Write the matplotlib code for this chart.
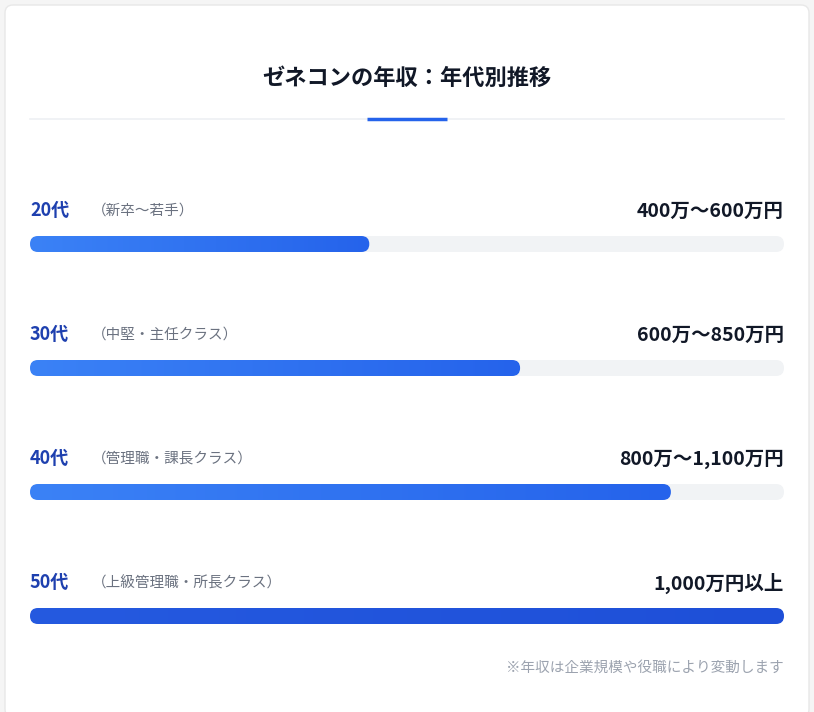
import numpy as np
import matplotlib.pyplot as plt
from matplotlib.patches import FancyBboxPatch

plt.rcParams['font.family'] = ['Noto Sans CJK JP', 'DejaVu Sans']

title = "ゼネコンの年収：年代別推移"
ages = ["20代", "30代", "40代", "50代"]
roles = ["（新卒〜若手）", "（中堅・主任クラス）", "（管理職・課長クラス）", "（上級管理職・所長クラス）"]
salaries = ["400万〜600万円", "600万〜850万円", "800万〜1,100万円", "1,000万円以上"]
fill_pct = [45, 65, 85, 100]
note = "※年収は企業規模や役職により変動します"

W, H = 814, 712
fig = plt.figure(figsize=(W / 100, H / 100), dpi=100)
fig.patch.set_facecolor("#f5f5f5")
ax = fig.add_axes([0, 0, 1, 1])
ax.set_xlim(0, W)
ax.set_ylim(H, 0)
ax.axis("off")

# card
ax.add_patch(FancyBboxPatch((5, 5), W - 10, H, boxstyle="round,pad=0,rounding_size=8",
                            fc="white", ec="#e8e8e8", lw=1))

ax.text(W / 2, 78, title, ha="center", va="center", fontsize=16, fontweight="bold", color="#111827")
ax.plot([30, 784], [119, 119], color="#eef0f3", lw=1.2)
ax.plot([367, 447], [119, 119], color="#2563eb", lw=2.5, solid_capstyle="butt")

x0, x1, bh = 30, 784, 16
for i in range(len(ages)):
    ly = 211 + i * 124
    by = 244 + i * 124
    ax.text(x0, ly, ages[i], ha="left", va="center", fontsize=13, fontweight="bold", color="#1e40af")
    ax.text(92, ly, roles[i], ha="left", va="center", fontsize=10.5, color="#6b7280")
    ax.text(x1, ly, salaries[i], ha="right", va="center", fontsize=14, fontweight="bold", color="#111827")
    # track
    ax.add_patch(FancyBboxPatch((x0, by - bh / 2), x1 - x0, bh,
                                boxstyle="round,pad=0,rounding_size=8", fc="#f1f3f5", ec="none"))
    xe = x0 + (x1 - x0) * fill_pct[i] / 100
    clip = FancyBboxPatch((x0, by - bh / 2), xe - x0, bh,
                          boxstyle="round,pad=0,rounding_size=8", fc="none", ec="none")
    ax.add_patch(clip)
    if fill_pct[i] >= 100:
        c0, c1 = np.array([0x1d, 0x4e, 0xd8]), np.array([0x1e, 0x4f, 0xd8])
        c0 = np.array([0x25, 0x5a, 0xe0])
    else:
        c0, c1 = np.array([0x3b, 0x82, 0xf6]), np.array([0x25, 0x63, 0xeb])
    t = np.linspace(0, 1, 256)[None, :, None]
    grad = (c0 + (c1 - c0) * t) / 255.0
    im = ax.imshow(grad, extent=(x0, xe, by + bh / 2, by - bh / 2), aspect="auto", zorder=3)
    im.set_clip_path(clip)

ax.text(x1, 668, note, ha="right", va="center", fontsize=10.5, color="#9ca3af")
ax.set_xlim(0, W)
ax.set_ylim(H, 0)

fig.savefig("out.png", dpi=100, facecolor=fig.get_facecolor())
